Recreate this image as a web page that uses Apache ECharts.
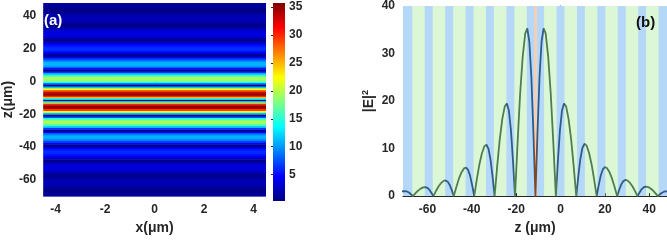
<!DOCTYPE html>
<html>
<head>
<meta charset="utf-8">
<script src="https://cdn.jsdelivr.net/npm/echarts@6/dist/echarts.min.js"></script>
<style>
  html, body { margin: 0; padding: 0; background: #fff; }
  #main { width: 667px; height: 240px; }
</style>
</head>
<body>
<div id="main"></div>
<script>
// |E|^2 along z (same profile as the bands in panel (a))
var zPos = [
  -72.25, -71.1, -70.18, -69.26, -68.34, -67.42, -66.5,
  -65.35, -64.2, -63.05, -61.9, -60.98, -60.06, -59.14, -58.22, -57.3,
  -56.15, -55.0, -53.85, -52.7, -51.78, -50.86, -49.94, -49.02, -48.1,
  -46.95, -45.8, -44.65, -43.5, -42.58, -41.66, -40.74, -39.82, -38.9,
  -37.75, -36.6, -35.45, -34.3, -33.38, -32.46, -31.54, -30.62, -29.7,
  -28.55, -27.4, -26.25, -25.1, -24.18, -23.26, -22.34, -21.42, -20.5,
  -19.35, -18.2, -17.05, -15.9, -14.98, -14.06, -13.14, -12.22, -11.3,
  -10.38, -9.46, -8.54, -7.62, -6.7, -5.55, -4.4, -3.25, -2.1,
  -1.18, -0.26, 0.66, 1.58, 2.5, 3.65, 4.8, 5.95, 7.1,
  8.02, 8.94, 9.86, 10.78, 11.7, 12.85, 14.0, 15.15, 16.3,
  17.22, 18.14, 19.06, 19.98, 20.9, 22.05, 23.2, 24.35, 25.5,
  26.42, 27.34, 28.26, 29.18, 30.1, 31.25, 32.4, 33.55, 34.7,
  35.62, 36.54, 37.46, 38.38, 39.3, 40.45, 41.6, 42.75, 43.9,
  44.82, 45.74, 46.66, 47.58, 48.5
];
var intensity = [
  0.87, 1.02, 1.05, 0.97, 0.75, 0.40, 0,
  0.61, 1.16, 1.58, 1.84, 1.9, 1.75, 1.35, 0.72, 0,
  1.06, 2.01, 2.74, 3.2, 3.3, 3.04, 2.34, 1.25, 0,
  1.92, 3.66, 4.98, 5.82, 6.0, 5.52, 4.26, 2.28, 0,
  3.46, 6.59, 8.96, 10.48, 10.8, 9.94, 7.67, 4.1, 0,
  6.24, 11.9, 16.19, 18.92, 19.5, 17.94, 13.85, 7.41, 0,
  11.3, 21.53, 29.3, 34.24, 35.3, 32.48, 25.06, 13.41, 0,
  13.41, 25.06, 32.48, 35.3, 34.24, 29.3, 21.53, 11.3, 0,
  7.41, 13.85, 17.94, 19.5, 18.92, 16.19, 11.9, 6.24, 0,
  4.18, 7.81, 10.12, 11.0, 10.67, 9.13, 6.71, 3.52, 0,
  2.32, 4.33, 5.61, 6.1, 5.92, 5.06, 3.72, 1.95, 0,
  1.29, 2.41, 3.13, 3.4, 3.3, 2.82, 2.07, 1.09, 0,
  0.76, 1.42, 1.84, 2.0, 1.94, 1.66, 1.22, 0.64, 0,
  0.38, 0.71, 0.92, 1.0, 0.97
];

// layers of the structure (z ranges, um)
var blueLayers = [
  [-71.5, -66.8], [-61.2, -57.6], [-52.0, -48.4], [-42.8, -39.2], [-33.6, -30.0],
  [-24.4, -20.8], [-15.2, -11.9], [-10.7, -7.4], [-1.8, 1.8], [7.4, 11.0],
  [16.6, 20.2], [25.8, 29.4], [35.0, 38.6], [44.2, 48.5]
];
var defectLayer = [-11.9, -10.7];

// tick labels
var heatXTicks = [-4, -2, 0, 2, 4];
var zTicks = [-60, -40, -20, 0, 20, 40];
var barTicks = [5, 10, 15, 20, 25, 30, 35];

var xRange = [-4.5, 4.5];
var zRangeA = [-70, 48];
var zRangeB = [-71, 48];
var cRange = [0.3, 35.7];

var jet = ['#000080', '#0000ff', '#0080ff', '#00ffff', '#80ff80', '#ffff00', '#ff8000', '#ff0000', '#800000'];
var BLUE = '#b6d8f8', GREEN = '#dcf7d6', PEACH = '#f7ccb2';

var myChart = echarts.init(document.getElementById('main'));

// rows of the map: each sample covers half way to its neighbours
var heatRows = [];
for (var i = 0; i < zPos.length; i++) {
  var lo = i > 0 ? (zPos[i - 1] + zPos[i]) / 2 : zPos[i];
  var hi = i < zPos.length - 1 ? (zPos[i] + zPos[i + 1]) / 2 : zPos[i];
  lo = Math.max(lo, zRangeA[0]);
  hi = Math.min(hi, zRangeA[1]);
  if (hi > lo) heatRows.push([lo, hi, intensity[i]]);
}

var lineData = zPos.map(function (z, i) { return [z, intensity[i]]; });

var linePieces = blueLayers.map(function (l) {
  return { gte: l[0], lt: l[1], color: '#2c5b8c' };
});
linePieces.push({ gte: defectLayer[0], lt: defectLayer[1], color: '#7a4a2e' });

var stripeAreas = blueLayers.map(function (l) {
  return [{ xAxis: l[0], itemStyle: { color: BLUE } }, { xAxis: l[1] }];
});
stripeAreas.push([{ xAxis: defectLayer[0], itemStyle: { color: PEACH } }, { xAxis: defectLayer[1] }]);

var font = 'Liberation Sans';
var tickLabel = { color: '#262626', fontWeight: 'bold', fontSize: 12, fontFamily: font };
var nameStyle = { color: '#262626', fontWeight: 'bold', fontSize: 14, fontFamily: font };

let option = {
  animation: false,
  grid: [
    { left: 37, top: 3, width: 229, height: 198 },
    { left: 273, top: 3, width: 12, height: 198 },
    { left: 403, top: 5, width: 264, height: 199, show: true, backgroundColor: GREEN, borderWidth: 0 }
  ],
  xAxis: [
    {
      gridIndex: 0, type: 'value', min: xRange[0], max: xRange[1],
      name: 'x(μm)', nameLocation: 'middle', nameGap: 25, nameTextStyle: nameStyle,
      axisLine: { show: false }, splitLine: { show: false },
      axisTick: { inside: true, length: 3, customValues: heatXTicks, lineStyle: { color: '#262626' } },
      axisLabel: Object.assign({ margin: 8, customValues: heatXTicks }, tickLabel)
    },
    { gridIndex: 1, type: 'value', min: 0, max: 1, show: false },
    {
      gridIndex: 2, type: 'value', min: zRangeB[0], max: zRangeB[1],
      name: 'z (μm)', nameLocation: 'middle', nameGap: 22, nameTextStyle: nameStyle,
      axisLine: { show: true, lineStyle: { color: '#262626', width: 1 } }, splitLine: { show: false },
      axisTick: { inside: true, length: 3, customValues: zTicks, lineStyle: { color: '#262626' } },
      axisLabel: Object.assign({ margin: 8, customValues: zTicks }, tickLabel)
    }
  ],
  yAxis: [
    {
      gridIndex: 0, type: 'value', min: zRangeA[0], max: zRangeA[1],
      name: 'z(μm)', nameLocation: 'middle', nameGap: 24, nameTextStyle: nameStyle,
      axisLine: { show: false }, splitLine: { show: false },
      axisTick: { inside: true, length: 3, customValues: zTicks, lineStyle: { color: '#262626' } },
      axisLabel: Object.assign({ margin: 7, customValues: zTicks }, tickLabel)
    },
    {
      gridIndex: 1, type: 'value', position: 'right', min: cRange[0], max: cRange[1],
      axisLine: { show: false }, splitLine: { show: false },
      axisTick: { inside: true, length: 2, customValues: barTicks, lineStyle: { color: '#262626' } },
      axisLabel: Object.assign({ margin: 4, customValues: barTicks }, tickLabel)
    },
    {
      gridIndex: 2, type: 'value', min: 0, max: 40, interval: 10,
      name: '|E|{s|2}', nameLocation: 'middle', nameGap: 25,
      nameTextStyle: Object.assign({
        rich: { s: { fontSize: 9, fontWeight: 'bold', fontFamily: font, color: '#262626', padding: [0, 0, 8, 0] } }
      }, nameStyle),
      axisLine: { show: true, lineStyle: { color: '#262626', width: 1 } }, splitLine: { show: false },
      axisTick: { inside: true, length: 3, lineStyle: { color: '#262626' } },
      axisLabel: Object.assign({ margin: 8 }, tickLabel)
    }
  ],
  visualMap: [
    {
      type: 'continuous', show: false, seriesIndex: 0, dimension: 2,
      min: 0, max: cRange[1], inRange: { color: jet }
    },
    {
      type: 'piecewise', show: false, seriesIndex: 2, dimension: 0,
      pieces: linePieces, outOfRange: { color: '#4e7d50' }
    }
  ],
  series: [
    {
      type: 'custom', xAxisIndex: 0, yAxisIndex: 0,
      data: heatRows,
      renderItem: function (params, api) {
        var p1 = api.coord([xRange[0], api.value(1)]);
        var p2 = api.coord([xRange[1], api.value(0)]);
        return {
          type: 'rect',
          shape: { x: p1[0], y: p1[1], width: p2[0] - p1[0], height: p2[1] - p1[1] + 0.6 },
          style: { fill: api.visual('color') }
        };
      }
    },
    {
      type: 'custom', xAxisIndex: 1, yAxisIndex: 1,
      data: [[cRange[0], cRange[1]]],
      renderItem: function (params, api) {
        var p1 = api.coord([0, api.value(1)]);
        var p2 = api.coord([1, api.value(0)]);
        var stops = jet.map(function (c, k) { return { offset: k / (jet.length - 1), color: c }; });
        return {
          type: 'rect',
          shape: { x: p1[0], y: p1[1], width: p2[0] - p1[0], height: p2[1] - p1[1] },
          style: { fill: new echarts.graphic.LinearGradient(0, 1, 0, 0, stops) }
        };
      }
    },
    {
      type: 'line', xAxisIndex: 2, yAxisIndex: 2,
      data: lineData, showSymbol: false, smooth: false,
      lineStyle: { width: 1.8 },
      markArea: { silent: true, data: stripeAreas }
    }
  ],
  graphic: [
    { type: 'text', left: 44, top: 13, z: 100, style: { text: '(a)', fill: '#fff', font: 'bold 15px "Liberation Sans"' } },
    { type: 'text', left: 636, top: 15, z: 100, style: { text: '(b)', fill: '#111', font: 'bold 15px "Liberation Sans"' } }
  ]
};

myChart.setOption(option);
</script>
</body>
</html>
